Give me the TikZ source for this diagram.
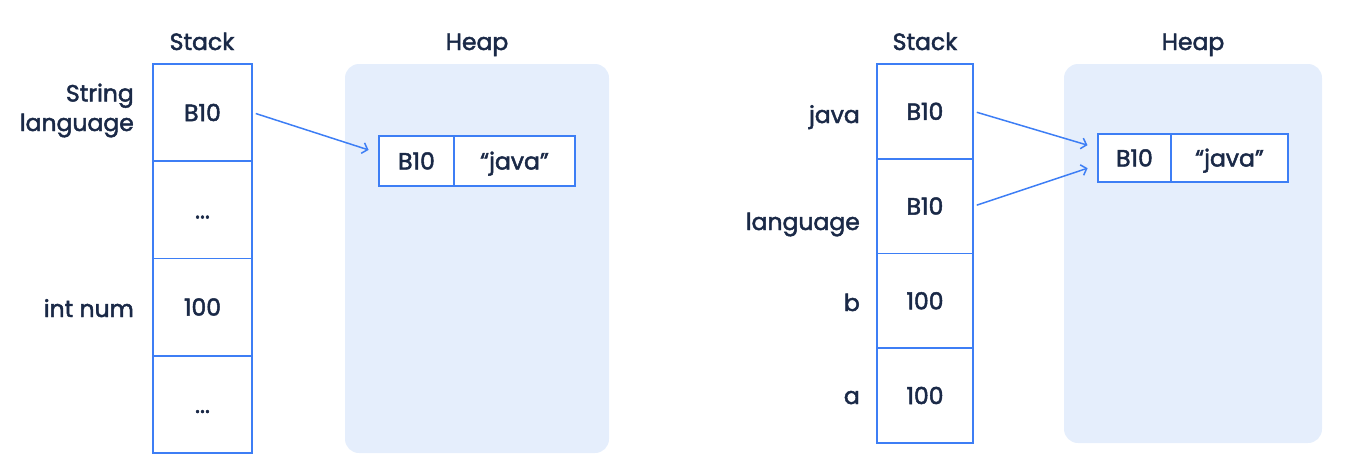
\documentclass[tikz,border=0pt]{standalone}
\usepackage{fontspec}
\setmainfont{Poppins}[FakeBold=2]
\usetikzlibrary{arrows.meta}
\definecolor{ink}{HTML}{1A2947}
\definecolor{edge}{HTML}{3D7EF5}
\definecolor{heapfill}{HTML}{E5EEFC}
\begin{document}
\begin{tikzpicture}[x=1pt,y=-1pt,
  font=\fontsize{23.5}{29.5}\selectfont, text=ink,
  box/.style={draw=edge, line width=1.8pt, fill=white, inner sep=0pt, text height=17pt, text depth=0pt},
  cellL/.style={box, minimum width=99pt, minimum height=97.25pt},
  cellR/.style={box, minimum width=96pt, minimum height=94.75pt},
  heap/.style={fill=heapfill, rounded corners=14pt, inner sep=0pt},
  obj/.style={box},
  title/.style={inner sep=0pt, anchor=base},
  var/.style={inner sep=0pt, anchor=base east, align=right},
  conn/.style={draw=edge, line width=1.5pt, -{Straight Barb[length=5pt,width=11pt,line width=1.5pt]}, shorten >=10pt, shorten <=3pt}]
\useasboundingbox (0,0) rectangle (1361,471);
% ---------- left diagram ----------
\node[title] (stL) at (202,50) {Stack};
\node[title] (hpL) at (477,50) {Heap};
\node[heap, minimum width=264pt, minimum height=389pt] (heapL) at (477,258.5) {};
\node[cellL] (l1) at (202.5,112.6) {B10};
\node[cellL] (l2) at (202.5,209.9) {...};
\node[cellL] (l3) at (202.5,307.1) {100};
\node[cellL] (l4) at (202.5,404.4) {...};
\node[obj, minimum width=75pt, minimum height=50pt] (lo1) at (416.5,161) {B10};
\node[obj, minimum width=121pt, minimum height=50pt] (lo2) at (514.5,161) {“java”};
\node[var] (vL1) at (134,131) {String\\language};
\node[var] (vL2) at (134,317) {int num};
\draw[conn] (l1.east) -- ([yshift=8pt]lo1.west);
% ---------- right diagram ----------
\node[title] (stR) at (925,50) {Stack};
\node[title] (hpR) at (1193,50) {Heap};
\node[heap, minimum width=258pt, minimum height=379pt] (heapR) at (1193,253.5) {};
\node[cellR] (r1) at (925,111.4) {B10};
\node[cellR] (r2) at (925,206.1) {B10};
\node[cellR] (r3) at (925,300.9) {100};
\node[cellR] (r4) at (925,395.6) {100};
\node[obj, minimum width=73pt, minimum height=48pt] (ro1) at (1134.5,158) {B10};
\node[obj, minimum width=117pt, minimum height=48pt] (ro2) at (1229.5,158) {“java”};
\node[var] (vR1) at (860,123) {java};
\node[var] (vR2) at (860,230) {language};
\node[var] (vR3) at (860,311) {b};
\node[var] (vR4) at (860,404) {a};
\draw[conn] (r1.east) -- ([yshift=10pt]ro1.west);
\draw[conn] (r2.east) -- ([yshift=-7pt]ro1.west);
\end{tikzpicture}
\end{document}
